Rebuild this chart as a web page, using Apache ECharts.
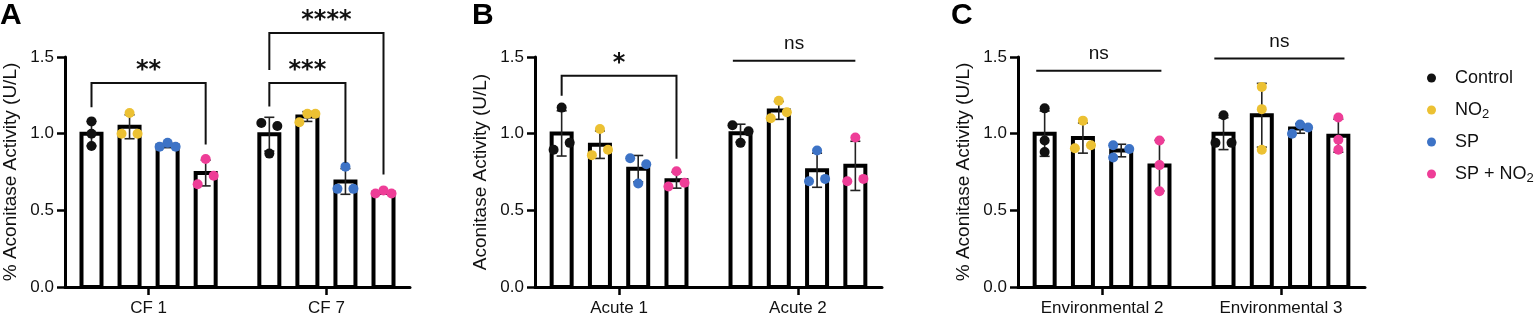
<!DOCTYPE html>
<html>
<head>
<meta charset="utf-8">
<script src="https://cdn.jsdelivr.net/npm/echarts@6/dist/echarts.min.js"></script>
<style>
  html, body { margin: 0; padding: 0; background: #fff; }
  #chart { width: 1536px; height: 317px; }
</style>
</head>
<body>
<div id="chart"></div>
<script>
// groups shown in every panel
const groupNames = ['Control', 'NO2', 'SP', 'SP + NO2'];
const groupColors = ['#111111', '#ecc133', '#3d73c6', '#ee3d97'];
const yTicks = [0, 0.5, 1.0, 1.5];

// panel A: three replicates per category
const catsA = ['CF 1', 'CF 7'];
const controlA = [[1.08, 1.00, 0.92], [1.07, 1.05, 0.87]];
const no2A = [[1.135, 1.00, 1.00], [1.075, 1.13, 1.13]];
const spA = [[0.915, 0.94, 0.915], [0.785, 0.64, 0.64]];
const spNo2A = [[0.835, 0.67, 0.725], [0.61, 0.63, 0.61]];

// panel B
const catsB = ['Acute 1', 'Acute 2'];
const controlB = [[1.17, 0.895, 0.94], [1.055, 1.015, 0.94]];
const no2B = [[1.03, 0.86, 0.895], [1.215, 1.10, 1.14]];
const spB = [[0.84, 0.80, 0.675], [0.89, 0.69, 0.705]];
const spNo2B = [[0.755, 0.655, 0.68], [0.975, 0.69, 0.705]];

// panel C
const catsC = ['Environmental 2', 'Environmental 3'];
const controlC = [[1.165, 0.955, 0.88], [1.12, 0.94, 0.94]];
const no2C = [[1.085, 0.905, 0.925], [1.305, 1.16, 0.895]];
const spC = [[0.925, 0.90, 0.845], [1.0, 1.06, 1.04]];
const spNo2C = [[0.955, 0.795, 0.625], [1.105, 0.96, 0.895]];

// horizontal spread of the dots (-1 left, 0 centre, 1 right)
const spreadA = [[[0, 0, 0], [-1, 1, 0]], [[0, -1, 1], [-1, 0, 1]], [[-1, 0, 1], [0, -1, 1]], [[0, -1, 1], [-1, 0, 1]]];
const spreadB = [[[0, -1, 1], [-1, 1, 0]], [[0, -1, 1], [0, -1, 1]], [[-1, 1, 0], [0, -1, 1]], [[0, -1, 1], [0, -1, 1]]];
const spreadC = [[[0, 0, 0], [0, -1, 1]], [[0, -1, 1], [0, 0, 0]], [[-1, 1, -1], [-1, 0, 1]], [[0, 0, 0], [0, 0, 0]]];

// significance annotations
const sigA = [
  { cat: 0, from: 0, to: 3, top: 1.33, legs: [1.173, 0.929], label: '**' },
  { cat: 1, from: 0, to: 2, top: 1.33, legs: [1.177, 0.81], label: '***' },
  { cat: 1, from: 0, to: 3, top: 1.656, legs: [1.416, 0.734], label: '****' }
];
const sigB = [
  { cat: 0, from: 0, to: 3, top: 1.377, legs: [1.247, 0.836], label: '*' },
  { cat: 1, from: -0.2, to: 3.0, top: 1.475, legs: [1.475, 1.475], label: 'ns' }
];
const sigC = [
  { cat: 0, from: -0.22, to: 3.05, top: 1.41, legs: [1.41, 1.41], label: 'ns' },
  { cat: 1, from: -0.24, to: 3.16, top: 1.49, legs: [1.49, 1.49], label: 'ns' }
];

const panels = [
  { letter: 'A', yName: '% Aconitase Activity (U/L)', cats: catsA, groups: [controlA, no2A, spA, spNo2A], spread: spreadA, sig: sigA, left: 63, letterLeft: -5 },
  { letter: 'B', yName: 'Aconitase Activity (U/L)', cats: catsB, groups: [controlB, no2B, spB, spNo2B], spread: spreadB, sig: sigB, left: 535, letterLeft: 467 },
  { letter: 'C', yName: '% Aconitase Activity (U/L)', cats: catsC, groups: [controlC, no2C, spC, spNo2C], spread: spreadC, sig: sigC, left: 1018, letterLeft: 946 }
];

const SLOT = 0.214;   // bar spacing in category units
const JIT = 0.045;    // dot spread in category units
const FONT = 'Liberation Sans, Arial, Helvetica, sans-serif';

const mean = a => a.reduce((s, v) => s + v, 0) / a.length;
const sd = a => {
  const m = mean(a);
  return Math.sqrt(a.reduce((s, v) => s + (v - m) * (v - m), 0) / (a.length - 1));
};
const slotX = (cat, g) => cat + (g - 1.5) * SLOT;

const chart = echarts.init(document.getElementById('chart'));

const grid = [], xAxis = [], yAxis = [], series = [], title = [];

panels.forEach((p, i) => {
  grid.push({ left: p.left, top: 57, width: 347, height: 231 });
  title.push({
    text: p.letter, left: p.letterLeft, top: -4,
    textStyle: { fontFamily: FONT, fontSize: 30, fontWeight: 'bold', color: '#000' }
  });
  xAxis.push({
    type: 'value', gridIndex: i, min: -0.47, max: 1.47,
    axisLine: { show: true, onZero: false, lineStyle: { color: '#000', width: 3 } },
    axisTick: { show: true, customValues: [0, 1], length: 8, lineStyle: { color: '#000', width: 2.5 } },
    axisLabel: {
      customValues: [0, 1], formatter: v => p.cats[Math.round(v)] || '',
      fontFamily: FONT, fontSize: 17, color: '#111', margin: 13
    },
    splitLine: { show: false }
  });
  yAxis.push({
    type: 'value', gridIndex: i, min: 0, max: 1.5, interval: 0.5,
    name: p.yName, nameLocation: 'middle', nameGap: 45,
    nameTextStyle: { fontFamily: FONT, fontSize: 19, color: '#111' },
    axisLine: { show: true, onZero: false, lineStyle: { color: '#000', width: 3 } },
    axisTick: { show: true, length: 8, lineStyle: { color: '#000', width: 2.5 } },
    axisLabel: { formatter: v => yTicks.includes(v) ? v.toFixed(1) : '', fontFamily: FONT, fontSize: 17, color: '#111', margin: 11 },
    splitLine: { show: false }
  });

  // bars + error bars
  const barData = [];
  p.groups.forEach((vals, g) => {
    vals.forEach((reps, c) => barData.push([slotX(c, g), mean(reps), sd(reps)]));
  });
  series.push({
    type: 'custom', xAxisIndex: i, yAxisIndex: i, z: 2,
    data: barData,
    renderItem: (params, api) => {
      const base = api.coord([api.value(0), 0]);
      const top = api.coord([api.value(0), api.value(1)]);
      return {
        type: 'rect',
        shape: { x: base[0] - 10, y: top[1], width: 20, height: base[1] - top[1] },
        style: { fill: '#fff', stroke: '#000', lineWidth: 4 }
      };
    }
  });
  series.push({
    type: 'custom', xAxisIndex: i, yAxisIndex: i, z: 3,
    data: barData,
    renderItem: (params, api) => {
      const x = api.value(0), m = api.value(1), s = api.value(2);
      const hi = api.coord([x, m + s]);
      const lo = api.coord([x, m - s]);
      const st = { stroke: '#222', lineWidth: 1.6 };
      return {
        type: 'group',
        children: [
          { type: 'line', shape: { x1: hi[0], y1: hi[1], x2: lo[0], y2: lo[1] }, style: st },
          { type: 'line', shape: { x1: hi[0] - 5, y1: hi[1], x2: hi[0] + 5, y2: hi[1] }, style: st },
          { type: 'line', shape: { x1: lo[0] - 5, y1: lo[1], x2: lo[0] + 5, y2: lo[1] }, style: st }
        ]
      };
    }
  });

  // replicate dots
  p.groups.forEach((vals, g) => {
    const pts = [];
    vals.forEach((reps, c) => reps.forEach((v, k) => pts.push([slotX(c, g) + p.spread[g][c][k] * JIT, v])));
    series.push({
      type: 'scatter', name: groupNames[g], xAxisIndex: i, yAxisIndex: i, z: 4,
      symbol: 'circle', symbolSize: 10,
      itemStyle: { color: groupColors[g], opacity: 1 },
      data: pts
    });
  });

  // significance brackets
  series.push({
    type: 'custom', xAxisIndex: i, yAxisIndex: i, z: 5, clip: false,
    data: p.sig.map((s, k) => [k]),
    renderItem: (params, api) => {
      const s = p.sig[params.dataIndex];
      const a = api.coord([slotX(s.cat, s.from), s.legs[0]]);
      const b = api.coord([slotX(s.cat, s.from), s.top]);
      const c = api.coord([slotX(s.cat, s.to), s.top]);
      const d = api.coord([slotX(s.cat, s.to), s.legs[1]]);
      const isStar = s.label !== 'ns';
      return {
        type: 'group',
        children: [
          { type: 'polyline', shape: { points: [a, b, c, d] }, style: { stroke: '#111', lineWidth: 2, fill: null } },
          {
            type: 'text',
            x: (b[0] + c[0]) / 2, y: b[1] - (isStar ? 12 : 17),
            style: {
              text: s.label, align: 'center', verticalAlign: 'middle',
              font: (isStar ? 'bold 24px DejaVu Sans' : '19px ' + FONT), fill: '#111'
            }
          }
        ]
      };
    }
  });
});

chart.setOption({
  animation: false,
  backgroundColor: '#fff',
  title,
  grid, xAxis, yAxis, series,
  legend: {
    data: groupNames,
    orient: 'vertical', left: 1422, top: 64,
    icon: 'circle', itemWidth: 9, itemHeight: 9, itemGap: 12,
    selectedMode: false,
    formatter: n => n.includes('NO2') ? '{n|' + n.replace('NO2', 'NO') + '}{s|2}' : '{n|' + n + '}',
    textStyle: {
      padding: [0, 0, 0, 14],
      rich: {
        n: { fontFamily: FONT, fontSize: 18, color: '#111', lineHeight: 20 },
        s: { fontFamily: FONT, fontSize: 13, color: '#111', lineHeight: 20, padding: [9, 0, 0, 0] }
      }
    }
  }
});
</script>
</body>
</html>
